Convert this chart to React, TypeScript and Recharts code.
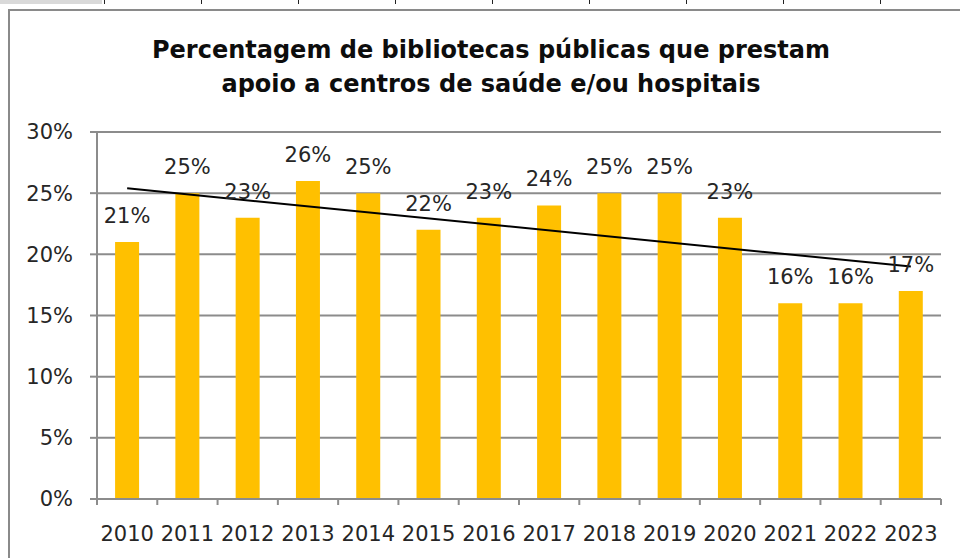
import React from 'react';
import { ComposedChart, Bar, Line, XAxis, YAxis, CartesianGrid, LabelList } from 'recharts';

const years = ['2010', '2011', '2012', '2013', '2014', '2015', '2016', '2017', '2018', '2019', '2020', '2021', '2022', '2023'];
const shares = [21, 25, 23, 26, 25, 22, 23, 24, 25, 25, 23, 16, 16, 17];
// linear trend line endpoints (first and last year)
const trendStart = 25.4;
const trendEnd = 19.0;
const yTicks = [0, 5, 10, 15, 20, 25, 30];
const titleLines = ['Percentagem de bibliotecas públicas que prestam', 'apoio a centros de saúde e/ou hospitais'];

const data = years.map((year, i) => ({
  year,
  value: shares[i],
  trend: i === 0 ? trendStart : i === years.length - 1 ? trendEnd : null,
}));

const FONT = '"DejaVu Sans", Verdana, sans-serif';
const TEXT = '#262626';
const GRID = '#8c8c8c';
const LABEL_SIZE = 21;
const X_TICK_SIZE = 6;
const X_TICK_MARGIN = 21;

const XTick = (props: any) => {
  const { x, y, payload, index } = props;
  const half = payload && payload.offset ? payload.offset : 30.15;
  const lineY = y - X_TICK_SIZE - X_TICK_MARGIN;
  return (
    <g>
      {index === 0 && (
        <line x1={x - half} x2={x - half} y1={lineY} y2={lineY + X_TICK_SIZE} stroke={GRID} strokeWidth={2} />
      )}
      <line x1={x + half} x2={x + half} y1={lineY} y2={lineY + X_TICK_SIZE} stroke={GRID} strokeWidth={2} />
      <text x={x} y={y} dy="0.71em" textAnchor="middle" fontFamily={FONT} fontSize={LABEL_SIZE} fill={TEXT}>
        {payload.value}
      </text>
    </g>
  );
};

const headerTicks = [104, 201, 298, 395, 492, 589, 686, 783, 880];

export default function App() {
  return (
    <div style={{ position: 'fixed', left: 0, top: 0, width: 960, height: 558, background: '#fff', overflow: 'hidden' }}>
      <div style={{ position: 'absolute', left: 0, top: 0, width: 102, height: 4, background: '#d9d9d9' }} />
      {headerTicks.map((x) => (
        <div key={x} style={{ position: 'absolute', left: x, top: 0, width: 1, height: 4, background: '#222' }} />
      ))}
      <div
        style={{
          position: 'absolute',
          left: 8,
          top: 9,
          width: 960,
          height: 560,
          borderTop: '2px solid #8a8a8a',
          borderLeft: '2px solid #8a8a8a',
        }}
      />
      <div style={{ position: 'absolute', left: 0, top: 0 }}>
        <ComposedChart width={960} height={558} data={data} margin={{ top: 132, right: 19, bottom: 0, left: 0 }} barCategoryGap="30%">
          <CartesianGrid vertical={false} stroke={GRID} strokeWidth={2} />
          <XAxis
            dataKey="year"
            interval={0}
            height={59}
            axisLine={{ stroke: GRID, strokeWidth: 2 }}
            tickLine={false}
            tickSize={X_TICK_SIZE}
            tickMargin={X_TICK_MARGIN}
            tick={<XTick />}
          />
          <YAxis
            domain={[0, 30]}
            ticks={yTicks}
            interval={0}
            width={97}
            tickFormatter={(v: number) => `${v}%`}
            axisLine={{ stroke: GRID, strokeWidth: 2 }}
            tickLine={{ stroke: GRID, strokeWidth: 2 }}
            tickSize={7}
            tickMargin={17}
            tick={{ fontFamily: FONT, fontSize: LABEL_SIZE, fill: TEXT }}
          />
          <Bar dataKey="value" fill="#FFC000" isAnimationActive={false}>
            <LabelList
              dataKey="value"
              position="top"
              offset={19}
              formatter={(v: any) => `${v}%`}
              style={{ fontFamily: FONT, fontSize: LABEL_SIZE, fill: TEXT }}
            />
          </Bar>
          <Line
            dataKey="trend"
            stroke="#000"
            strokeWidth={2}
            dot={false}
            activeDot={false}
            connectNulls
            isAnimationActive={false}
          />
        </ComposedChart>
      </div>
      <svg width={960} height={120} style={{ position: 'absolute', left: 0, top: 0, pointerEvents: 'none' }}>
        {titleLines.map((line, i) => (
          <text
            key={i}
            x={491}
            y={58 + i * 34}
            textAnchor="middle"
            fontFamily={FONT}
            fontWeight="bold"
            fontSize={24}
            fill="#0d0d0d"
          >
            {line}
          </text>
        ))}
      </svg>
    </div>
  );
}
